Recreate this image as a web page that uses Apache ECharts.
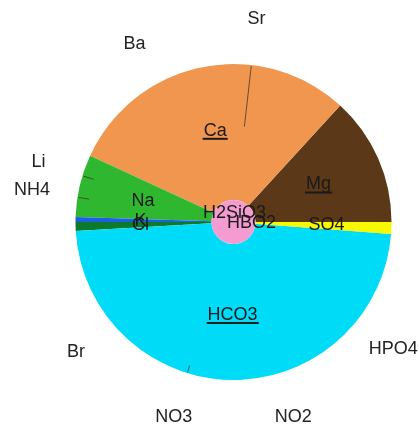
<!DOCTYPE html>
<html>
<head>
<meta charset="utf-8">
<script src="https://cdn.jsdelivr.net/npm/echarts@6/dist/echarts.min.js"></script>
<style>
  html, body { margin: 0; padding: 0; background: #fff; }
  #chart { width: 419px; height: 427px; }
</style>
</head>
<body>
<div id="chart"></div>
<script>
// Ion balance in equivalent %: cations fill the upper half, anions the lower half
const ionNames  = ['Mg', 'Ca', 'Na', 'K', 'Cl', 'HCO3', 'SO4', 'Sr', 'Ba', 'Li', 'NH4', 'Br', 'NO3', 'NO2', 'HPO4'];
const ionValues = [13.2, 29.9, 6.4, 0.5, 0.9, 47.9, 1.2, 0, 0, 0, 0, 0, 0, 0, 0];
// Neutral species drawn in the small centre disc
const neutralNames  = ['H2SiO3', 'HBO2'];
const neutralValues = [1, 0];
// Major ions get an underlined label
const majorIons = ['Ca', 'Mg', 'HCO3'];

// ---- styling / layout ----
const ionColors = {
  Mg: '#5b3918', Ca: '#f0964f', Na: '#2fb82f', K: '#1c5fe6',
  Cl: '#0b7a2a', HCO3: '#00dbf8', SO4: '#f8f800'
};
const neutralColor = '#f49bd2';
// where the labels of trace ions sit (degrees, counter-clockwise from east)
const traceLabelAngle = { Sr: 83.5, Ba: 119, Li: 163, NH4: 171, Br: 219.5, NO3: 253, NO2: 287, HPO4: 321.5 };
// short marker strokes from the rim inward for some trace ions
const traceTickInner = { Sr: 96, Li: 146, NH4: 146, NO3: 150 };
const neutralLabelShift = { H2SiO3: [1, -9], HBO2: [18, 1] };

const CX = 233.5, CY = 222, R0 = 22, R = 158, LABEL_R = 204;
const FONT = '"Liberation Sans", Arial, sans-serif';
const FS = 18;
const TEXT = '#1a1a1a';

const measureCtx = document.createElement('canvas').getContext('2d');
measureCtx.font = FS + 'px "Liberation Sans", Arial, sans-serif';
const textWidth = s => Math.round(measureCtx.measureText(s).width) + 2;

const rad = d => d * Math.PI / 180;

const ionData = ionNames.map((name, i) => {
  const item = {
    name: name,
    value: ionValues[i],
    itemStyle: { color: ionColors[name] || '#999' }
  };
  if (name in traceLabelAngle) {
    item.label = { position: 'outside', color: '#222' };
  } else if (majorIons.includes(name)) {
    // small spacer on top keeps the word centred; the rule sits just under the baseline
    item.label = {
      position: 'inside',
      formatter: '{s| }\n{t|' + name + '}\n{u| }',
      rich: {
        s: { fontSize: 1, lineHeight: 2, height: 2 },
        t: { fontSize: FS, fontFamily: FONT, color: TEXT, lineHeight: 14 },
        u: { width: textWidth(name), height: 2, lineHeight: 2, fontSize: 1, backgroundColor: TEXT }
      }
    };
  } else {
    item.label = { position: 'inside' };
  }
  return item;
});

const neutralData = neutralNames.map((name, i) => ({
  name: name,
  value: neutralValues[i],
  itemStyle: { color: neutralColor }
}));

// thin rim strokes marking the trace-ion directions
const tickLines = Object.keys(traceTickInner).map(name => {
  const c = Math.cos(rad(traceLabelAngle[name])), s = Math.sin(rad(traceLabelAngle[name]));
  const ri = traceTickInner[name];
  return {
    type: 'line',
    z: 10,
    silent: true,
    shape: { x1: CX + (R - 1) * c, y1: CY - (R - 1) * s, x2: CX + ri * c, y2: CY - ri * s },
    style: { stroke: 'rgba(70,50,30,0.75)', lineWidth: 1 }
  };
});

const option = {
  backgroundColor: '#ffffff',
  animation: false,
  graphic: tickLines,
  series: [
    {
      type: 'pie',
      center: [CX, CY],
      radius: [R0, R],
      startAngle: 0,
      clockwise: false,
      avoidLabelOverlap: false,
      minShowLabelAngle: 0,
      silent: true,
      emphasis: { disabled: true },
      itemStyle: { borderWidth: 0 },
      labelLine: { show: false },
      label: {
        show: true,
        formatter: '{b}',
        fontSize: FS,
        fontFamily: FONT,
        color: TEXT
      },
      labelLayout: function (p) {
        const name = ionNames[p.dataIndex];
        const deg = traceLabelAngle[name];
        if (deg === undefined) return {};
        return {
          x: CX + LABEL_R * Math.cos(rad(deg)),
          y: CY - LABEL_R * Math.sin(rad(deg)),
          align: 'center',
          verticalAlign: 'middle'
        };
      },
      data: ionData
    },
    {
      type: 'pie',
      center: [CX, CY],
      radius: [0, R0],
      startAngle: 0,
      clockwise: false,
      avoidLabelOverlap: false,
      minShowLabelAngle: 0,
      silent: true,
      z: 5,
      emphasis: { disabled: true },
      label: {
        show: true,
        position: 'inside',
        formatter: '{b}',
        fontSize: FS,
        fontFamily: FONT,
        color: TEXT
      },
      labelLine: { show: false },
      labelLayout: function (p) {
        const sh = neutralLabelShift[neutralNames[p.dataIndex]];
        return { x: CX + sh[0], y: CY + sh[1], align: 'center', verticalAlign: 'middle' };
      },
      data: neutralData
    }
  ]
};

const chart = echarts.init(document.getElementById('chart'), null, { renderer: 'canvas' });
chart.setOption(option);
</script>
</body>
</html>
